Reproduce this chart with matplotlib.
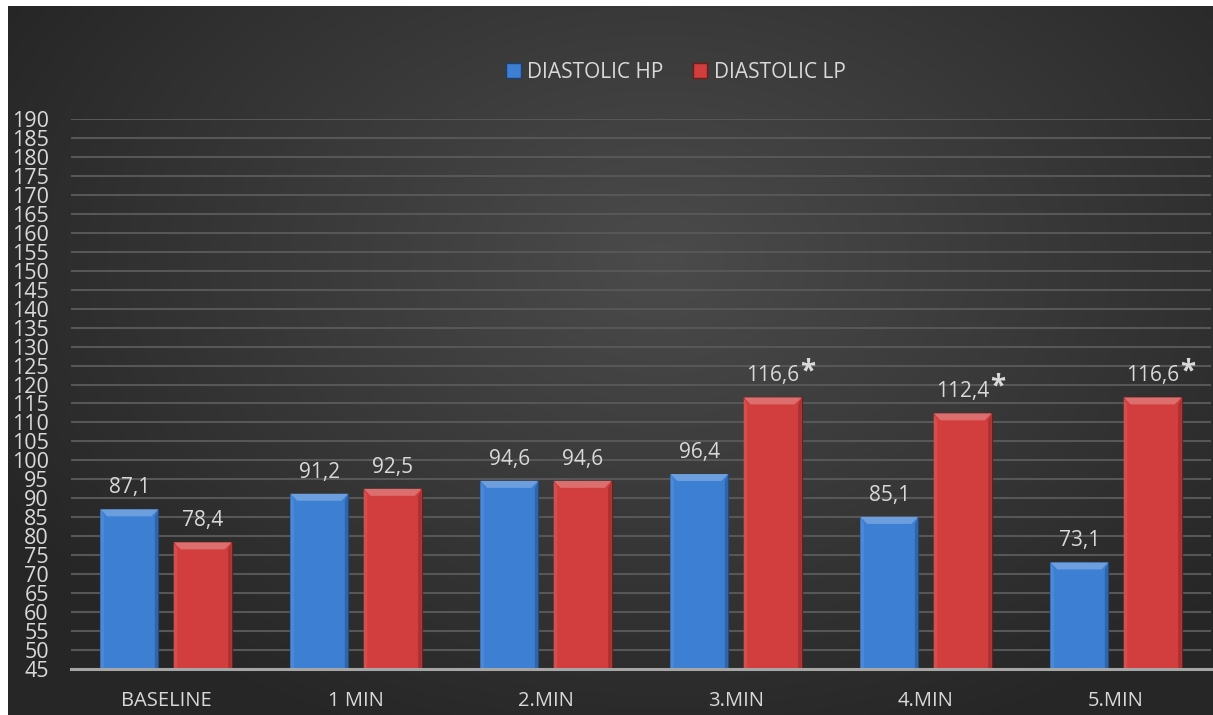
import numpy as np
import matplotlib
matplotlib.use("Agg")
import matplotlib.pyplot as plt
from matplotlib.patches import Polygon, Patch
import matplotlib.colors as mcolors

categories = ["BASELINE", "1 MIN", "2.MIN", "3.MIN", "4.MIN", "5.MIN"]
hp_values = [87.1, 91.2, 94.6, 96.4, 85.1, 73.1]
lp_values = [78.4, 92.5, 94.6, 116.6, 112.4, 116.6]
lp_significant = [False, False, False, True, True, True]
series_names = ["DIASTOLIC HP", "DIASTOLIC LP"]
y_ticks = list(range(45, 191, 5))

W, H = 1213, 715
fig = plt.figure(figsize=(W / 100, H / 100), dpi=100, facecolor="white")
plt.rcParams["font.family"] = ["Open Sans", "DejaVu Sans"]

# background gradient panel
bg = fig.add_axes([8 / W, 0, 1 - 8 / W, 1 - 6 / H], zorder=-5)
gx = np.linspace(8, W, 400)
gy = np.linspace(6, H, 300)
X, Y = np.meshgrid(gx, gy)
r = np.sqrt(((X - 660) / 700) ** 2 + ((Y - 260) / 480) ** 2)
v = np.clip(0.295 - 0.135 * r, 0.15, 0.30)
bg.imshow(np.dstack([v, v, v]), aspect="auto", extent=[0, 1, 0, 1], origin="upper")
bg.set_axis_off()

ax = fig.add_axes([71 / W, (H - 669) / H, (1211 - 71) / W, (669 - 119) / H])
ax.set_facecolor("none")
ax.set_xlim(-0.5, len(categories) - 0.5)
ax.set_ylim(45, 190)

x = np.arange(len(categories))
bw = 0.305
off = 0.193
blue = "#3c7fd3"
red = "#d23e3e"
b1 = ax.bar(x - off, np.array(hp_values) - 45, bw, bottom=45, color=blue,
            edgecolor="#1d3f6e", linewidth=0.8, zorder=3)
b2 = ax.bar(x + off, np.array(lp_values) - 45, bw, bottom=45, color=red,
            edgecolor="#6e1d1d", linewidth=0.8, zorder=3)

# bevel effect
px_x = (1211 - 71) / (len(categories))
px_y = (669 - 119) / (190 - 45)
bx = 7 / px_x
by = 7 / px_y

def lighten(c, f):
    rgb = np.array(mcolors.to_rgb(c))
    return tuple(rgb + (1 - rgb) * f)

def darken(c, f):
    rgb = np.array(mcolors.to_rgb(c))
    return tuple(rgb * (1 - f))

for bars, col in ((b1, blue), (b2, red)):
    for p in bars:
        x0, y0 = p.get_x(), p.get_y()
        x1, y1 = x0 + p.get_width(), y0 + p.get_height()
        ax.add_patch(Polygon([(x0, y1), (x1, y1), (x1 - bx, y1 - by), (x0 + bx, y1 - by)],
                             closed=True, color=lighten(col, 0.25), zorder=4, lw=0))
        ax.add_patch(Polygon([(x0, y0), (x0, y1), (x0 + bx * 0.5, y1 - by), (x0 + bx * 0.5, y0)],
                             closed=True, color=lighten(col, 0.08), zorder=4, lw=0))
        ax.add_patch(Polygon([(x1, y0), (x1, y1), (x1 - bx * 0.5, y1 - by), (x1 - bx * 0.5, y0)],
                             closed=True, color=darken(col, 0.2), zorder=4, lw=0))

ax.set_yticks(y_ticks)
ax.set_yticklabels([str(t) for t in y_ticks])
ax.set_xticks(x)
ax.set_xticklabels(categories)
ax.tick_params(axis="y", length=0, pad=16, labelsize=15.5, labelcolor="#d9d9d9")
ax.tick_params(axis="x", length=0, pad=16, labelsize=14.5, labelcolor="#d9d9d9")
ax.grid(axis="y", color="#575757", linewidth=1.5, zorder=0)
ax.set_axisbelow(True)
for s in ["top", "right", "left"]:
    ax.spines[s].set_visible(False)
ax.spines["bottom"].set_color("#a6a6a6")
ax.spines["bottom"].set_linewidth(2.2)
ax.spines["bottom"].set_zorder(5)

def fmt(v):
    return f"{v:.1f}".replace(".", ",")

for i, v in enumerate(hp_values):
    ax.annotate(fmt(v), (x[i] - off, v), xytext=(0, 8), textcoords="offset points",
                ha="center", va="bottom", fontsize=15, color="#d9d9d9")
for i, v in enumerate(lp_values):
    t = ax.annotate(fmt(v), (x[i] + off, v), xytext=(0, 8), textcoords="offset points",
                    ha="center", va="bottom", fontsize=15, color="#d9d9d9")
    if lp_significant[i]:
        ax.annotate("*", xy=(1.0, 1.0), xycoords=t, xytext=(0.5, 6), textcoords="offset points",
                    ha="left", va="top", fontsize=20, fontweight="bold", color="#d9d9d9")

handles = [Patch(facecolor=blue, edgecolor="#1d3f6e"), Patch(facecolor=red, edgecolor="#6e1d1d")]
fig.legend(handles, series_names, loc="center", bbox_to_anchor=(676 / W, 1 - 72 / H),
           ncol=2, frameon=False, fontsize=15, labelcolor="#d9d9d9",
           handlelength=0.7, handleheight=0.7, handletextpad=0.3, columnspacing=1.4)

fig.savefig("out.png", dpi=100, facecolor="white")
